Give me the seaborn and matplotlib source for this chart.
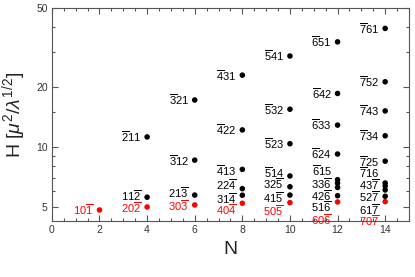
import matplotlib
matplotlib.use('Agg')
import matplotlib.pyplot as plt
import seaborn as sns
import pandas as pd
from matplotlib.ticker import FixedLocator, FixedFormatter, MultipleLocator, NullFormatter

# data
n_values = [2,
            4, 4, 4,
            6, 6, 6, 6,
            8, 8, 8, 8, 8, 8,
            10, 10, 10, 10, 10, 10, 10,
            12, 12, 12, 12, 12, 12, 12, 12, 12,
            14, 14, 14, 14, 14, 14, 14, 14, 14, 14]
h_values = [4.83,
            11.25, 5.60, 5.00,
            17.25, 8.60, 5.74, 5.12,
            23.0, 12.2, 7.73, 6.18, 5.73, 5.22,
            28.7, 15.5, 10.4, 7.16, 6.32, 5.74, 5.26,
            33.8, 18.6, 12.9, 9.23, 6.86, 6.59, 6.27, 5.70, 5.30,
            39.5, 21.3, 15.2, 11.4, 8.5, 6.60, 6.38, 6.09, 5.66, 5.32]
labels = [r'10$\overline{1}$',
          r'$\overline{2}$11', r'11$\overline{2}$', r'20$\overline{2}$',
          r'$\overline{3}$21', r'$\overline{3}$12', r'21$\overline{3}$', r'30$\overline{3}$',
          r'$\overline{4}$31', r'$\overline{4}$22', r'$\overline{4}$13', r'22$\overline{4}$',
          r'31$\overline{4}$', r'40$\overline{4}$',
          r'$\overline{5}$41', r'$\overline{5}$32', r'$\overline{5}$23', r'$\overline{5}$14',
          r'32$\overline{5}$', r'41$\overline{5}$', r'50$\overline{5}$',
          r'$\overline{6}$51', r'$\overline{6}$42', r'$\overline{6}$33', r'$\overline{6}$24',
          r'$\overline{6}$15', r'33$\overline{6}$', r'42$\overline{6}$', r'51$\overline{6}$',
          r'60$\overline{6}$',
          r'$\overline{7}$61', r'$\overline{7}$52', r'$\overline{7}$43', r'$\overline{7}$34',
          r'$\overline{7}$25', r'$\overline{7}$16', r'43$\overline{7}$', r'52$\overline{7}$',
          r'61$\overline{7}$', r'70$\overline{7}$']
groups = ['p0p',
          'other', 'other', 'p0p',
          'other', 'other', 'other', 'p0p',
          'other', 'other', 'other', 'other', 'other', 'p0p',
          'other', 'other', 'other', 'other', 'other', 'other', 'p0p',
          'other', 'other', 'other', 'other', 'other', 'other', 'other', 'other', 'p0p',
          'other', 'other', 'other', 'other', 'other', 'other', 'other', 'other', 'other', 'p0p']

# label vertical shifts in pixels (to spread the crowded ones)
label_dy = [0,
            0, 2, -1,
            0, 0, 2, -1,
            0, 0, -1, 4.5, -3.7, -6.7,
            0, 0, 0, 3.5, 3.2, -3, -7.7,
            0, 0, 0, 0, 9.3, 0, -8.3, -11, -17.5,
            0, 0, 0, 0, 0, 10.8, 1.5, -6.7, -13, -19]

df = pd.DataFrame({'N': n_values, 'H': h_values, 'label': labels, 'group': groups})
palette = {'other': 'black', 'p0p': '#ff0000'}

sns.set_style('ticks')
plt.rcParams['font.family'] = ['Liberation Sans', 'DejaVu Sans']
plt.rcParams['mathtext.fontset'] = 'custom'
plt.rcParams['mathtext.rm'] = 'Liberation Sans'
plt.rcParams['mathtext.it'] = 'Liberation Sans:italic'
plt.rcParams['mathtext.bf'] = 'Liberation Sans:bold'

fig = plt.figure(figsize=(4.15, 2.77), dpi=100)
ax = fig.add_axes([0.125, 0.202, 0.8605, 0.769])

sns.scatterplot(data=df, x='N', y='H', hue='group', palette=palette, s=16,
                edgecolor='none', legend=False, ax=ax)

for x, y, txt, grp, dy in zip(n_values, h_values, labels, groups, label_dy):
    ax.annotate(txt, (x, y), xytext=(-6, dy), textcoords='offset pixels',
                ha='right', va='center', fontsize=8, color=palette[grp])

ax.set_yscale('log')
ax.set_xlim(0, 15)
ax.set_ylim(4.25, 50)

ax.xaxis.set_major_locator(MultipleLocator(2))
ax.xaxis.set_minor_locator(MultipleLocator(0.5))
ax.yaxis.set_major_locator(FixedLocator([5, 10, 20, 50]))
ax.yaxis.set_major_formatter(FixedFormatter(['5', '10', '20', '50']))
ax.yaxis.set_minor_locator(FixedLocator([6, 7, 8, 9, 15, 30, 40]))
ax.yaxis.set_minor_formatter(NullFormatter())

ax.tick_params(which='both', direction='in', top=True, right=True,
               color='#555555', labelsize=7.5, labelcolor='#333333', pad=3)
ax.tick_params(which='major', length=4, width=0.8)
ax.tick_params(which='minor', length=2.5, width=0.8)
for sp in ax.spines.values():
    sp.set_color('#555555')
    sp.set_linewidth(0.8)

ax.set_xlabel('N', fontsize=14, labelpad=4)
ax.set_ylabel(r'H [$\mu^2/\lambda^{1/2}$]', fontsize=14, labelpad=6)

fig.savefig('out.png', dpi=100)
